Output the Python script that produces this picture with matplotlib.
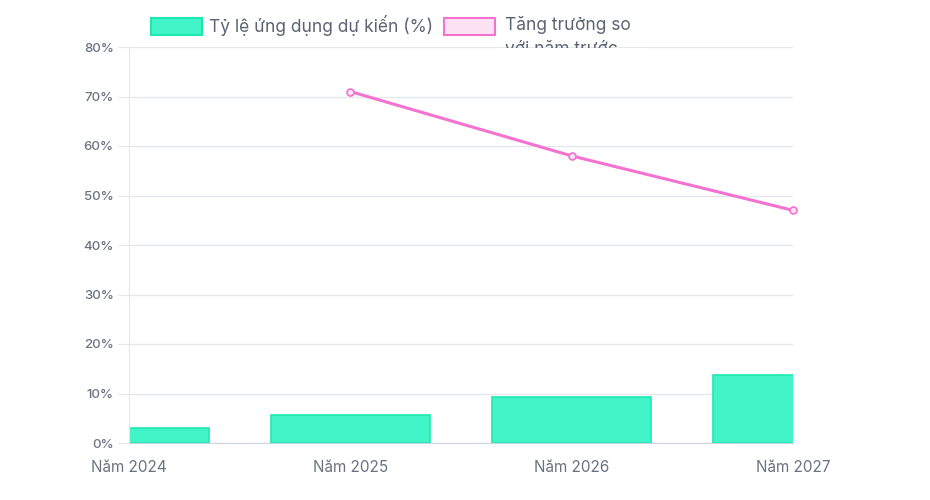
import matplotlib.pyplot as plt
from matplotlib.patches import Rectangle

plt.rcParams['font.family'] = ['Inter', 'DejaVu Sans']

years = ["Năm 2024", "Năm 2025", "Năm 2026", "Năm 2027"]
adoption = [3.1, 5.7, 9.2, 13.7]
growth = [None, 71, 58, 47]
y_ticks = [0, 10, 20, 30, 40, 50, 60, 70, 80]

label_bar = "Tỷ lệ ứng dụng dự kiến (%)"
label_line = "Tăng trưởng so\nvới năm trước"

bar_fill = "#42f5c8"
bar_edge = "#1ee8b0"
line_col = "#f472d0"
text_col = "#6b7280"
legend_col = "#5b6472"
grid_col = "#e5e7eb"

fig = plt.figure(figsize=(9.3, 5), dpi=100)
ax = fig.add_axes([129 / 930, 57 / 500, (793 - 129) / 930, (443 - 47) / 500])

xs = list(range(len(years)))
ax.bar(xs, adoption, width=0.72, color=bar_fill, edgecolor=bar_edge, linewidth=1.2, zorder=2)

gx = [x for x, g in zip(xs, growth) if g is not None]
gy = [g for g in growth if g is not None]
ax.plot(gx, gy, color=line_col, linewidth=2.2, marker='o', markersize=5,
        markerfacecolor="#fde2f3", markeredgecolor=line_col, markeredgewidth=1.2,
        zorder=3, clip_on=False)

ax.set_xlim(0, 3)
ax.set_ylim(0, 80)
ax.set_yticks(y_ticks)
ax.set_yticklabels([f"{v}%" for v in y_ticks])
ax.set_xticks(xs)
ax.set_xticklabels(years)
ax.grid(axis='y', color=grid_col, linewidth=1, zorder=0)
ax.tick_params(axis='y', length=8, color=grid_col, labelsize=9.5, labelcolor=text_col, pad=3)
ax.tick_params(axis='x', length=0, labelsize=11, labelcolor=text_col, pad=12)
for lab in ax.get_yticklabels():
    lab.set_fontweight('medium')

for side in ['top', 'right']:
    ax.spines[side].set_visible(False)
ax.spines['left'].set_color(grid_col)
ax.spines['bottom'].set_color("#cbd5e1")

# legend drawn by hand to keep the wrapped, clipped second label
fig.patches.append(Rectangle((151 / 930, 1 - 35 / 500), 51 / 930, 17 / 500,
                             transform=fig.transFigure, facecolor=bar_fill,
                             edgecolor=bar_edge, linewidth=1.5))
fig.text(209 / 930, 1 - 26 / 500, label_bar, fontsize=12.5, color=legend_col, va='center')
fig.patches.append(Rectangle((444 / 930, 1 - 35 / 500), 51 / 930, 17 / 500,
                             transform=fig.transFigure, facecolor="#fde2f3",
                             edgecolor=line_col, linewidth=1.5))
fig.text(505 / 930, 1 - 16 / 500, label_line, fontsize=12.5, color=legend_col,
         va='top', linespacing=1.55)
# the second label line is cut off by the chart area in the original
fig.add_artist(Rectangle((498 / 930, 1 - 62 / 500), 150 / 930, 14 / 500,
                         transform=fig.transFigure, facecolor='white',
                         edgecolor='none', zorder=10))

fig.savefig("out.png", dpi=100, facecolor='white')
